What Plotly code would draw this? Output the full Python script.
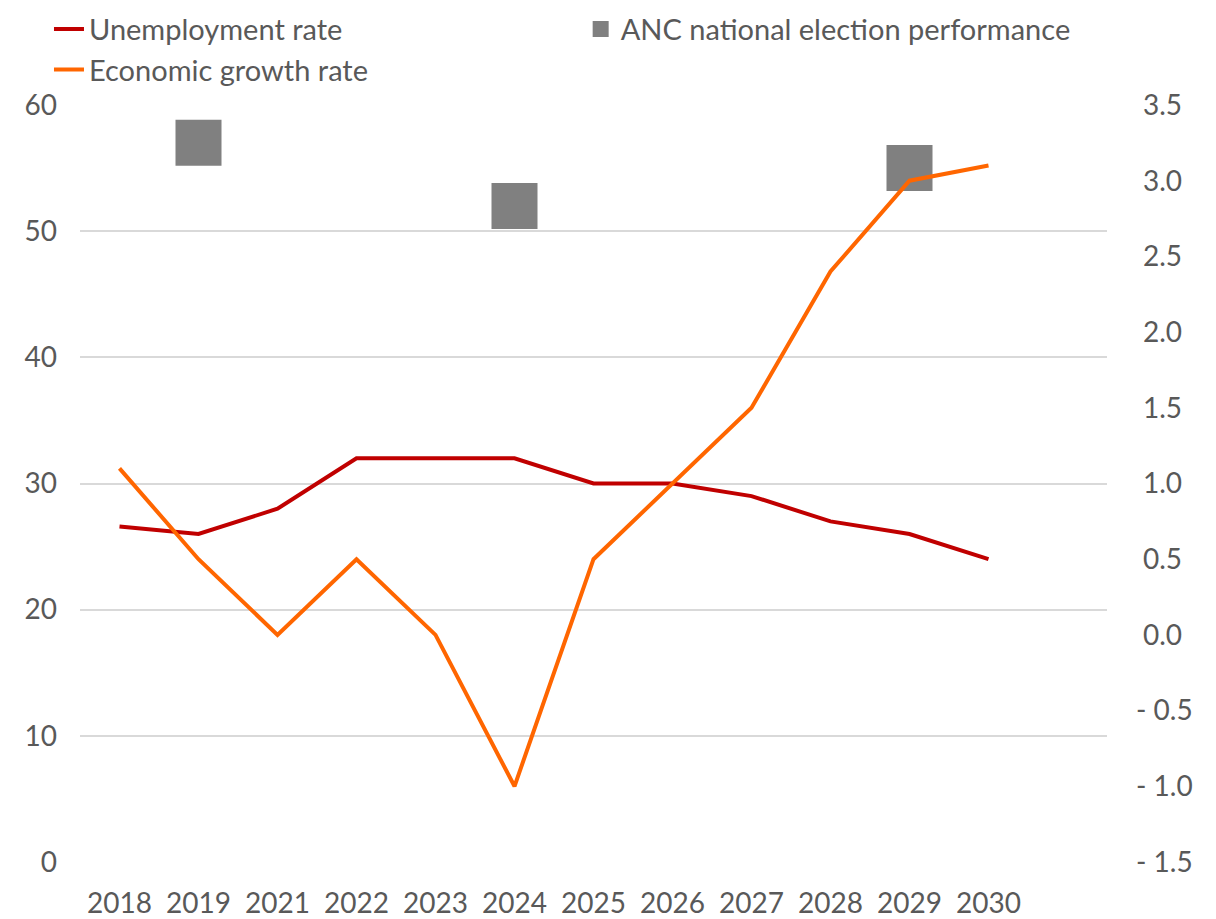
import plotly.graph_objects as go

years = ["2018", "2019", "2021", "2022", "2023", "2024", "2025", "2026", "2027", "2028", "2029", "2030"]
unemployment = [26.6, 26.0, 28.0, 32.0, 32.0, 32.0, 30.0, 30.0, 29.0, 27.0, 26.0, 24.0]
growth = [1.1, 0.5, 0.0, 0.5, 0.0, -1.0, 0.5, 1.0, 1.5, 2.4, 3.0, 3.1]
anc = [None, 57.0, None, None, None, 52.0, None, None, None, None, 55.0, None]

left_ticks = [0, 10, 20, 30, 40, 50, 60]
right_ticks = [-1.5, -1.0, -0.5, 0.0, 0.5, 1.0, 1.5, 2.0, 2.5, 3.0, 3.5]

TXT = "#595959"
FONT = "Lato"

def acct(v):
    if v < 0:
        return "- " + f"{abs(v):.1f}"
    return "\u2009\u2009" + f"{v:.1f}"

fig = go.Figure()
fig.add_trace(go.Scatter(
    x=years, y=unemployment, name="Unemployment rate", mode="lines",
    line=dict(color="#C00000", width=4), yaxis="y", legend="legend", legendgroup="a"))
fig.add_trace(go.Scatter(
    x=years, y=growth, name="Economic growth rate", mode="lines",
    line=dict(color="#FF6600", width=4), yaxis="y2", legend="legend", legendgroup="b"))
fig.add_trace(go.Scatter(
    x=years, y=anc, name="ANC national election performance", mode="markers",
    marker=dict(symbol="square", size=46, color="#808080"), yaxis="y", legend="legend2"))

fig.update_layout(
    width=1216, height=919,
    margin=dict(l=72, r=117, t=97, b=65, autoexpand=False),
    paper_bgcolor="white", plot_bgcolor="white",
    font=dict(family=FONT, size=27, color=TXT),
    xaxis=dict(type="category", range=[-0.5, 12.5], showgrid=False, zeroline=False,
               showline=False, ticks="", tickangle=0, ticklabelstandoff=22,
               tickfont=dict(size=28, color=TXT)),
    yaxis=dict(range=[0, 60], tickvals=left_ticks, showgrid=True, gridcolor="#D9D9D9",
               gridwidth=1.5, zeroline=False, showline=False, ticks="", ticklabelstandoff=22,
               tickfont=dict(size=28, color=TXT)),
    yaxis2=dict(range=[-1.5, 3.5], overlaying="y", side="right", tickvals=right_ticks,
                ticktext=[acct(v) for v in right_ticks], showgrid=False, zeroline=False,
                showline=False, ticks="", ticklabelstandoff=28,
                tickfont=dict(size=28, color=TXT)),
    legend=dict(xref="paper", yref="paper", x=-0.0302, y=1.134, xanchor="left",
                yanchor="top", orientation="v", traceorder="grouped", tracegroupgap=0,
                font=dict(size=29, color=TXT), bgcolor="rgba(0,0,0,0)", itemwidth=30),
    legend2=dict(xref="paper", yref="paper", x=0.4875, y=1.134, xanchor="left",
                 yanchor="top", orientation="v",
                 font=dict(size=29, color=TXT), bgcolor="rgba(0,0,0,0)", itemwidth=30),
    showlegend=True,
)

fig.write_html("out.html")
